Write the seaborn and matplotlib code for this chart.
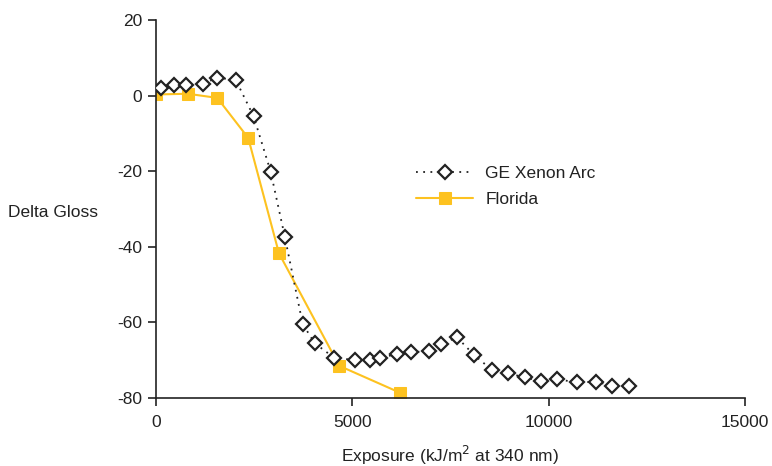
import matplotlib
matplotlib.use("Agg")
import matplotlib.pyplot as plt
import seaborn as sns
import pandas as pd

# Data
xenon_x = [120, 451, 756, 1204, 1561, 2030, 2488, 2921, 3285, 3736, 4041, 4530,
           5067, 5449, 5704, 6129, 6486, 6960, 7250, 7672, 8098, 8556, 8956,
           9389, 9811, 10211, 10713, 11212, 11612, 12037]
xenon_y = [2.0, 2.9, 2.9, 3.2, 4.7, 4.2, -5.5, -20.1, -37.5, -60.4, -65.5, -69.3,
           -70.0, -70.0, -69.4, -68.4, -67.9, -67.6, -65.7, -64.0, -68.6, -72.6,
           -73.5, -74.5, -75.6, -75.0, -75.9, -75.7, -76.8, -76.8]
florida_x = [0, 807, 1561, 2350, 3132, 4668, 6213]
florida_y = [0.3, 0.5, -0.6, -11.2, -41.7, -71.5, -78.6]
series_names = ["GE Xenon Arc", "Florida"]
x_ticks = [0, 5000, 10000, 15000]
y_ticks = [20, 0, -20, -40, -60, -80]

sns.set_style("white")
plt.rcParams['font.family'] = ['Liberation Sans Narrow', 'Liberation Sans', 'DejaVu Sans']

fig = plt.figure(figsize=(7.72, 4.66), dpi=100)
ax = fig.add_axes([0.202, 0.146, 0.763, 0.811])

df_x = pd.DataFrame({"x": xenon_x, "y": xenon_y})
df_f = pd.DataFrame({"x": florida_x, "y": florida_y})

sns.lineplot(data=df_x, x="x", y="y", ax=ax, sort=False, color="#222222",
             linestyle=(0, (1, 3)), linewidth=1.3, marker="D", markersize=7.5,
             markerfacecolor="white", markeredgecolor="#222222", markeredgewidth=1.6,
             label=series_names[0], zorder=3)
sns.lineplot(data=df_f, x="x", y="y", ax=ax, sort=False, color="#FDC220",
             linewidth=1.5, marker="s", markersize=9, markerfacecolor="#FDC220",
             markeredgecolor="#FDC220", label=series_names[1], zorder=2)

ax.set_xlim(0, 15000)
ax.set_ylim(-80, 20)
ax.set_xticks(x_ticks)
ax.set_yticks(y_ticks)
ax.set_xticklabels([str(t) for t in x_ticks])
ax.set_yticklabels([str(t) for t in y_ticks])
ax.tick_params(axis="both", direction="out", length=6, width=1.2, color="#222222",
               labelsize=12.5, labelcolor="#222222", pad=4, bottom=True, left=True)
ax.tick_params(axis="x", pad=6)
for s in ["top", "right"]:
    ax.spines[s].set_visible(False)
for s in ["left", "bottom"]:
    ax.spines[s].set_color("#222222")
    ax.spines[s].set_linewidth(1.2)

ax.set_xlabel("Exposure (kJ/m$^2$ at 340 nm)", fontsize=12.5, color="#222222", labelpad=10)
ax.set_ylabel("Delta Gloss", fontsize=12.5, color="#222222", rotation=0, ha="center", va="center")
ax.yaxis.set_label_coords(-0.175, 0.492)

leg = ax.legend(loc="upper left", bbox_to_anchor=(0.415, 0.656), frameon=False,
                fontsize=12.5, handlelength=3.3, handletextpad=0.7, labelspacing=0.65)
for t in leg.get_texts():
    t.set_color("#222222")

fig.savefig("out.png", dpi=100)
